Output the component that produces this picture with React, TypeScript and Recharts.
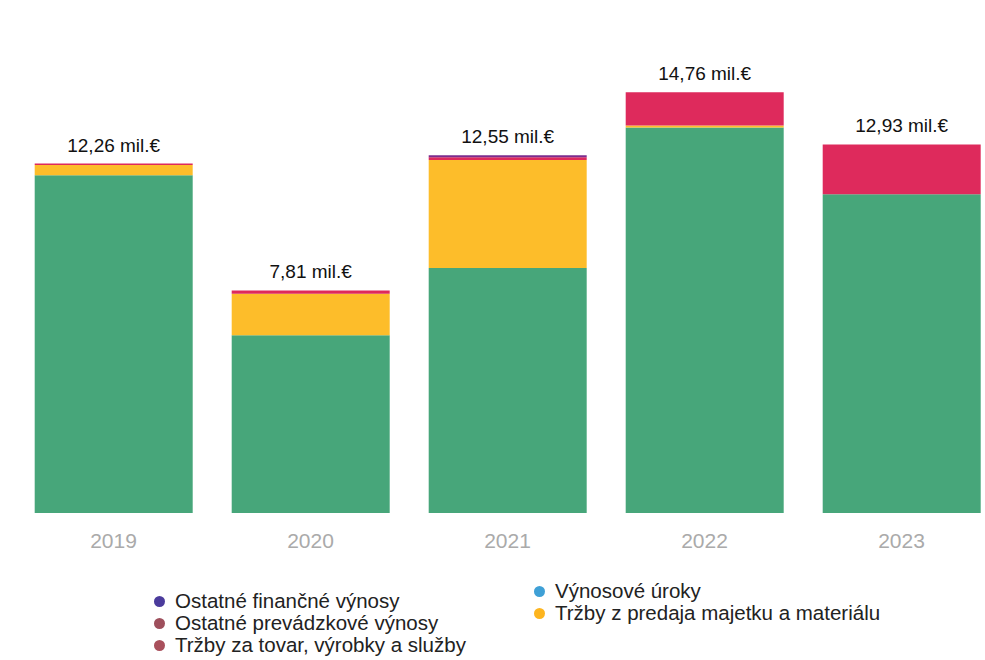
import React from "react";
import { BarChart, Bar, XAxis, YAxis, LabelList } from "recharts";

const years = ["2019", "2020", "2021", "2022", "2023"];
const trzbyTovar = [11.85, 6.24, 8.6, 13.53, 11.18];
const trzbyMajetok = [0.36, 1.45, 3.79, 0.07, 0];
const vynosoveUroky = [0, 0, 0, 0, 0];
const ostatnePrevadzkove = [0.05, 0.12, 0.09, 1.16, 1.75];
const ostatneFinancne = [0, 0, 0.07, 0, 0];
const totalLabels = ["12,26 mil.€", "7,81 mil.€", "12,55 mil.€", "14,76 mil.€", "12,93 mil.€"];

const data = years.map((y, i) => ({
  year: y,
  tovar: trzbyTovar[i],
  majetok: trzbyMajetok[i],
  uroky: vynosoveUroky[i],
  prevadzkove: ostatnePrevadzkove[i],
  financne: ostatneFinancne[i],
  total:
    trzbyTovar[i] + trzbyMajetok[i] + vynosoveUroky[i] + ostatnePrevadzkove[i] + ostatneFinancne[i],
  label: totalLabels[i],
}));

const legendCol1 = [
  { name: "Ostatné finančné výnosy", color: "#4b3b9c" },
  { name: "Ostatné prevádzkové výnosy", color: "#9e4f5c" },
  { name: "Tržby za tovar, výrobky a služby", color: "#a9505c" },
];
const legendCol2 = [
  { name: "Výnosové úroky", color: "#3fa0d6" },
  { name: "Tržby z predaja majetku a materiálu", color: "#fdb51f" },
];

const font = "'Liberation Sans', Arial, sans-serif";

const LegendItem = ({ name, color }: { name: string; color: string }) => (
  <div style={{ display: "flex", alignItems: "center", height: 22 }}>
    <span
      style={{
        display: "inline-block",
        width: 11,
        height: 11,
        borderRadius: "50%",
        background: color,
        marginRight: 10,
      }}
    />
    <span style={{ fontSize: 20.5, color: "#222", fontFamily: font }}>{name}</span>
  </div>
);

const renderTotal = (props: any) => {
  const { x, y, width, height, value, index } = props;
  const d = data[index];
  const scale = value ? height / value : 0;
  const topY = y - (d.total - value) * scale;
  return (
    <text
      x={x + width / 2}
      y={topY - 12}
      textAnchor="middle"
      fontSize={19}
      fontFamily={font}
      fill="#111"
    >
      {d.label}
    </text>
  );
};

export default function App() {
  return (
    <div
      style={{
        position: "absolute",
        left: 0,
        top: 0,
        width: 985,
        height: 660,
        overflow: "hidden",
        background: "#fff",
      }}
    >
      <BarChart
        width={1010}
        height={660}
        data={data}
        margin={{ top: 57, right: 10, bottom: 117, left: 15 }}
        barCategoryGap="10%"
      >
        <XAxis
          dataKey="year"
          axisLine={false}
          tickLine={false}
          tick={{ fill: "#aaaaaa", fontSize: 21, fontFamily: font }}
          dy={12}
          height={30}
        />
        <YAxis hide domain={[0, 16]} />
        <Bar dataKey="tovar" stackId="a" fill="#47a67a" isAnimationActive={false}>
          <LabelList dataKey="tovar" content={renderTotal} />
        </Bar>
        <Bar dataKey="majetok" stackId="a" fill="#fdbd2a" isAnimationActive={false} />
        <Bar dataKey="uroky" stackId="a" fill="#3fa0d6" isAnimationActive={false} />
        <Bar dataKey="prevadzkove" stackId="a" fill="#de2a5c" isAnimationActive={false} />
        <Bar dataKey="financne" stackId="a" fill="#7b2d8e" isAnimationActive={false} />
      </BarChart>
      <div style={{ position: "absolute", left: 154, top: 590 }}>
        {legendCol1.map((l) => (
          <LegendItem key={l.name} {...l} />
        ))}
      </div>
      <div style={{ position: "absolute", left: 534, top: 580 }}>
        {legendCol2.map((l) => (
          <LegendItem key={l.name} {...l} />
        ))}
      </div>
    </div>
  );
}
